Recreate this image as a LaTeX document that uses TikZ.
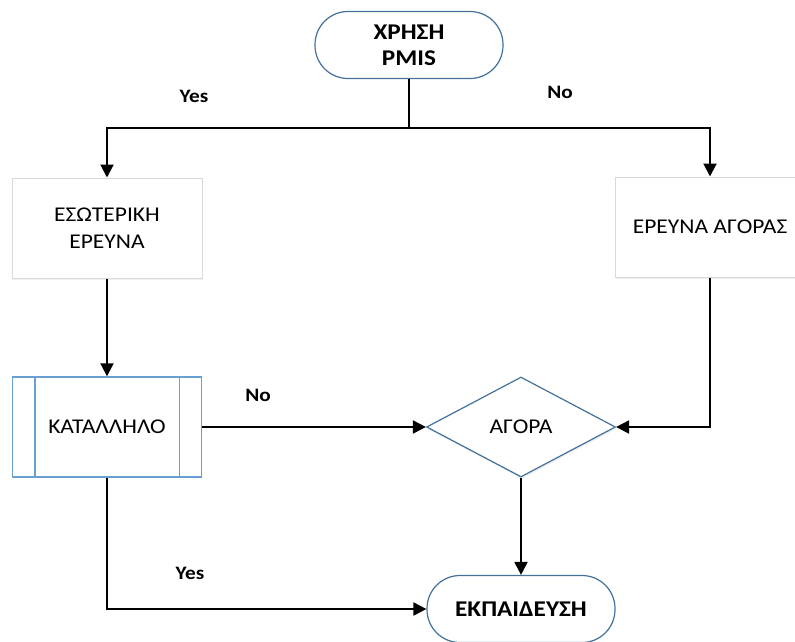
\documentclass[tikz,border=0pt]{standalone}
\usepackage{fontspec}
\setmainfont{Carlito}[FakeStretch=1.12]
\usetikzlibrary{shapes.geometric,arrows.meta,shadows}
\definecolor{termblue}{HTML}{41719C}
\definecolor{procblue}{HTML}{6A9FD4}
\definecolor{boxgray}{HTML}{D9D9D9}
\begin{document}
\begin{tikzpicture}[x=1pt,y=-1pt,
  conn/.style={line width=2pt, black},
  arr/.style={conn, -{Triangle[length=13pt,width=13pt]}},
  soft/.style={drop shadow={opacity=0.12, shadow xshift=1pt, shadow yshift=-2pt}},
  terminal/.style={draw=termblue, line width=1.2pt, fill=white, rounded corners=33pt,
    minimum width=188pt, minimum height=67pt, inner sep=0pt, align=center,
    font=\fontsize{22.5}{26}\selectfont\bfseries},
  plainbox/.style={draw=boxgray, line width=1pt, fill=white, soft, minimum width=190pt,
    minimum height=100pt, inner sep=0pt, align=center, font=\fontsize{21}{27}\selectfont},
  procbox/.style={draw=procblue, line width=1.4pt, fill=white, minimum width=189pt,
    minimum height=100pt, inner sep=0pt, align=center, font=\fontsize{21}{27}\selectfont},
  decision/.style={diamond, draw=termblue, line width=1.2pt, fill=white, soft, minimum width=189pt,
    minimum height=100pt, inner sep=0pt, aspect=1.89, font=\fontsize{21}{27}\selectfont},
  lbl/.style={font=\fontsize{19}{20}\selectfont\bfseries}
]
\useasboundingbox (0,0) rectangle (795,641);
\clip (0,0) rectangle (795,641);

% shapes
\node[terminal] (start) at (409,45) {ΧΡΗΣΗ\\PMIS};
\node[plainbox] (internal) at (107,228) {ΕΣΩΤΕΡΙΚΗ\\ΕΡΕΥΝΑ};
\node[plainbox] (market) at (710,227) {ΕΡΕΥΝΑ ΑΓΟΡΑΣ};
\node[procbox] (fit) at (107,427) {ΚΑΤΑΛΛΗΛΟ};
\draw[procblue, line width=1.4pt] ([xshift=23pt]fit.north west) -- ([xshift=23pt]fit.south west)
  ([xshift=-23pt]fit.north east) -- ([xshift=-23pt]fit.south east);
\node[decision] (buy) at (521,427) {ΑΓΟΡΑ};
\node[terminal] (train) at (521,609) {ΕΚΠΑΙΔΕΥΣΗ};

% connectors
\coordinate (split) at (409,128);
\coordinate (fitcorner) at (107,609);
\coordinate (marketcorner) at (710,427);
\draw[conn] (start.south) -- (split);
\draw[arr] (split) -| (internal.north);
\draw[arr] (split) -| (market.north);
\draw[arr] (internal.south) -- (fit.north);
\draw[arr] (fit.east) -- (buy.west);
\draw[arr] (market.south) -- (marketcorner) -- (buy.east);
\draw[arr] (buy.south) -- (train.north);
\draw[arr] (fit.south) -- (fitcorner) -- (train.west);

% labels
\node[lbl] (yes1) at (194,96) {Yes};
\node[lbl] (no1) at (560,92) {No};
\node[lbl] (no2) at (258,395) {No};
\node[lbl] (yes2) at (190,573) {Yes};
\end{tikzpicture}
\end{document}
